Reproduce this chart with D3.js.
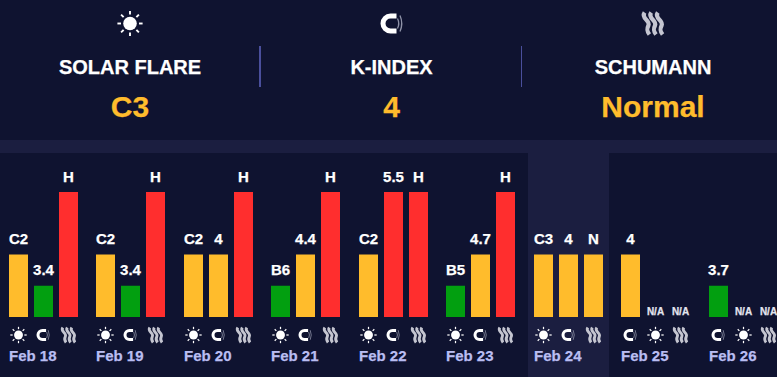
<!DOCTYPE html>
<html><head><meta charset="utf-8">
<script src="https://cdn.jsdelivr.net/npm/d3@7/dist/d3.min.js"></script>
<style>html,body{margin:0;padding:0;background:#0f1330;overflow:hidden}svg{display:block;font-family:"Liberation Sans",Arial,sans-serif;font-weight:700}text{stroke-width:.25px;paint-order:stroke}</style>
</head><body><div id="chart"></div>
<script>
const headerTitles = ["SOLAR FLARE", "K-INDEX", "SCHUMANN"];
const headerValues = ["C3", "4", "Normal"];
const headerIcons = ["sun", "magnet", "waves"];
const days = ["Feb 18","Feb 19","Feb 20","Feb 21","Feb 22","Feb 23","Feb 24","Feb 25","Feb 26"];
const highlightDay = "Feb 24";
const iconsByDay = [
  ["sun","magnet","waves"],["sun","magnet","waves"],["sun","magnet","waves"],
  ["sun","magnet","waves"],["sun","magnet","waves"],["sun","magnet","waves"],
  ["sun","magnet","waves"],["magnet","sun","waves"],["magnet","sun","waves"]];
const labelsByDay = [
  ["C2","3.4","H"],["C2","3.4","H"],["C2","4","H"],["B6","4.4","H"],["C2","5.5","H"],
  ["B5","4.7","H"],["C3","4","N"],["4","N/A","N/A"],["3.7","N/A","N/A"]];
const levelsByDay = [
  [2,1,4],[2,1,4],[2,2,4],[1,2,4],[2,4,4],[1,2,4],[2,2,2],[2,0,0],[1,0,0]];
const levelColors = ["none","#029f10","#ffbc2c","#ffbc2c","#ff2e2e"];

const W = 777, H = 377;
const svg = d3.select("#chart").append("svg").attr("width",W).attr("height",H);

svg.append("rect").attr("width",W).attr("height",H).attr("fill","#0f1330");
svg.append("rect").attr("y",140).attr("width",W).attr("height",13).attr("fill","#1b1e40");

const headerX = d3.scalePoint().domain(headerTitles).range([130,653]);
const dayX = d3.scaleBand().domain(days).range([9,9+87.5*9]);
const slotX = d3.scaleBand().domain([0,1,2]).range([0,69]).paddingInner(0.24).paddingOuter(0);
const y = d3.scaleLinear().domain([0,4]).range([317,192]);

function drawIcon(g, kind){
  if(kind==="sun"){
    g.append("circle").attr("r",6.8).attr("fill","#fff");
    d3.range(8).forEach(i=>{
      const a=i*Math.PI/4, c=Math.cos(a), s=Math.sin(a);
      g.append("line").attr("x1",c*9).attr("y1",s*9).attr("x2",c*12.6).attr("y2",s*12.6)
        .attr("stroke","#fff").attr("stroke-width",1.9);
    });
  } else if(kind==="magnet"){
    g.append("path").attr("d","M6,-7.5 H0 A7.5,7.5 0 0 0 0,7.5 H6")
      .attr("fill","none").attr("stroke","#fff").attr("stroke-width",5);
    g.append("path").attr("d","M7,-5 Q9.5,0 7,5 M9.5,-8 Q13,0 9.5,8")
      .attr("fill","none").attr("stroke","#8f93a8").attr("stroke-width",1.3);
  } else {
    [-6.6,0,6.6].forEach(dx=>{
      g.append("path").attr("d",`M${dx-1.8},-11 C${dx-6},-5 ${dx+4.5},-3 ${dx+2},2 C${dx},6 ${dx+0.5},8 ${dx+3},11`)
        .attr("fill","none").attr("stroke","#c4c5d0").attr("stroke-width",4.2);
    });
  }
}

// header
const hdr = svg.selectAll("g.hdr").data(headerTitles).join("g").attr("class","hdr")
  .attr("transform",d=>`translate(${headerX(d)},0)`);
hdr.append("text").attr("y",74).attr("text-anchor","middle").attr("fill","#fff").attr("stroke","#fff").attr("font-size",20).text(d=>d);
hdr.append("text").attr("y",117).attr("text-anchor","middle").attr("fill","#ffbc2c").attr("stroke","#ffbc2c").attr("font-size",30)
  .text((d,i)=>headerValues[i]);
hdr.append("g").attr("transform",(d,i)=>`translate(${i===1?-1:0},23.5)`)
  .each(function(d,i){drawIcon(d3.select(this),headerIcons[i]);});
svg.append("rect").attr("x",259).attr("y",46).attr("width",2).attr("height",41).attr("fill","#4a4f9c");
svg.append("rect").attr("x",521).attr("y",46).attr("width",1).attr("height",41).attr("fill","#4a4f9c");

// highlight
svg.append("rect").attr("x",Math.floor(dayX(highlightDay))-6).attr("y",153).attr("width",81).attr("height",224).attr("fill","#1b1e40");

// days
const iconScale = {sun:0.65, magnet:0.6, waves:0.68};
const iconShift = {sun:0, magnet:-1, waves:0};
const day = svg.selectAll("g.day").data(days).join("g").attr("class","day")
  .attr("transform",d=>`translate(${Math.floor(dayX(d))},0)`);
day.each(function(d,di){
  const g=d3.select(this);
  levelsByDay[di].forEach((lv,si)=>{
    const x=Math.round(slotX(si)), w=Math.round(slotX.bandwidth()), cx=x+w/2, lab=labelsByDay[di][si], kind=iconsByDay[di][si];
    if(lv>0) g.append("rect").attr("x",x).attr("y",y(lv)).attr("width",w).attr("height",y(0)-y(lv)).attr("fill",levelColors[lv]);
    const na=lab==="N/A";
    g.append("text").attr("x",cx).attr("y",na?y(0)-2:y(lv)-(lv===4?10:11)).attr("text-anchor","middle")
      .attr("fill",na?"#e4e5ee":"#fff").attr("stroke",na?"#e4e5ee":"#fff").attr("font-size",na?10:15).text(lab);
    const ic=g.append("g").attr("transform",`translate(${cx+iconShift[kind]},335) scale(${iconScale[kind]})`);
    drawIcon(ic,kind);
  });
  g.append("text").attr("x",0).attr("y",361).attr("fill","#b9bdf2").attr("stroke","#b9bdf2").attr("font-size",15).text(d);
});
</script></body></html>
